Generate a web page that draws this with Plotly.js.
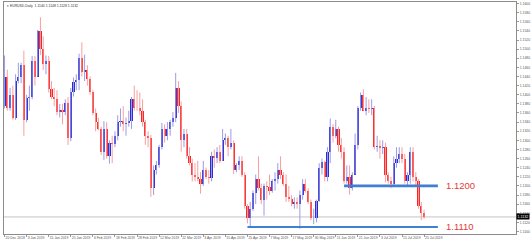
<!DOCTYPE html>
<html><head><meta charset="utf-8">
<script src="https://cdn.plot.ly/plotly-3.0.1.min.js"></script>
<style>html,body{margin:0;padding:0;background:#fff;}#chart{width:532px;height:245px;}</style>
</head><body><div id="chart"></div>
<script>
// EURUSD daily candles
const openP = [1.1375,1.1440,1.1370,1.1400,1.1350,1.1430,1.1440,1.1465,1.1345,1.1392,
1.1395,1.1473,1.1440,1.1540,1.1500,1.1468,1.1473,1.1412,1.1395,1.1390,
1.1363,1.1366,1.1362,1.1382,1.1305,1.1405,1.1427,1.1432,1.1480,1.1450,
1.1455,1.1435,1.1407,1.1360,1.1340,1.1325,1.1275,1.1325,1.1265,1.1295,
1.1293,1.1310,1.1340,1.1343,1.1335,1.1338,1.1342,1.1390,1.1372,1.1370,
1.1365,1.1340,1.1310,1.1305,1.1195,1.1235,1.1245,1.1285,1.1325,1.1310,
1.1325,1.1340,1.1350,1.1415,1.1375,1.1300,1.1315,1.1265,1.1250,1.1225,
1.1220,1.1215,1.1205,1.1235,1.1220,1.1218,1.1265,1.1262,1.1275,1.1255,
1.1300,1.1305,1.1285,1.1295,1.1235,1.1245,1.1255,1.1225,1.1155,1.1130,
1.1150,1.1185,1.1215,1.1195,1.1170,1.1200,1.1198,1.1190,1.1210,1.1215,
1.1235,1.1225,1.1205,1.1175,1.1172,1.1160,1.1165,1.1160,1.1180,1.1205,
1.1190,1.1165,1.1130,1.1130,1.1168,1.1240,1.1253,1.1220,1.1275,1.1330,
1.1310,1.1325,1.1290,1.1275,1.1210,1.1220,1.1195,1.1225,1.1290,1.1370,
1.1400,1.1365,1.1370,1.1368,1.1372,1.1285,1.1287,1.1283,1.1285,1.1225,
1.1210,1.1205,1.1250,1.1260,1.1270,1.1260,1.1210,1.1225,1.1275,1.1220,
1.1210,1.1155,1.1140];
const highP = [1.1486,1.1455,1.1415,1.1420,1.1445,1.1470,1.1470,1.1497,1.1400,1.1420,
1.1485,1.1485,1.1542,1.1570,1.1528,1.1486,1.1485,1.1430,1.1415,1.1410,
1.1380,1.1380,1.1390,1.1395,1.1415,1.1438,1.1445,1.1490,1.1515,1.1488,
1.1465,1.1440,1.1410,1.1370,1.1350,1.1330,1.1342,1.1340,1.1300,1.1310,
1.1320,1.1355,1.1370,1.1375,1.1350,1.1365,1.1395,1.1420,1.1410,1.1405,
1.1390,1.1345,1.1320,1.1312,1.1245,1.1255,1.1290,1.1338,1.1335,1.1340,
1.1345,1.1362,1.1448,1.1430,1.1385,1.1325,1.1325,1.1285,1.1260,1.1250,
1.1255,1.1230,1.1255,1.1240,1.1235,1.1275,1.1280,1.1285,1.1290,1.1325,
1.1315,1.1310,1.1325,1.1300,1.1250,1.1265,1.1265,1.1230,1.1160,1.1165,
1.1190,1.1225,1.1265,1.1205,1.1205,1.1210,1.1225,1.1215,1.1230,1.1250,
1.1265,1.1230,1.1225,1.1200,1.1180,1.1175,1.1175,1.1190,1.1215,1.1215,
1.1195,1.1170,1.1150,1.1170,1.1250,1.1260,1.1255,1.1285,1.1348,1.1335,
1.1345,1.1330,1.1305,1.1285,1.1245,1.1245,1.1230,1.1315,1.1375,1.1405,
1.1412,1.1395,1.1390,1.1390,1.1375,1.1310,1.1300,1.1300,1.1295,1.1230,
1.1220,1.1265,1.1285,1.1285,1.1285,1.1270,1.1230,1.1285,1.1285,1.1230,
1.1215,1.1165,1.1148];
const lowP = [1.1370,1.1365,1.1365,1.1345,1.1345,1.1425,1.1425,1.1310,1.1340,1.1365,
1.1390,1.1420,1.1440,1.1487,1.1454,1.1445,1.1405,1.1390,1.1375,1.1355,
1.1350,1.1335,1.1355,1.1290,1.1298,1.1396,1.1410,1.1410,1.1440,1.1430,
1.1420,1.1400,1.1355,1.1320,1.1322,1.1268,1.1257,1.1260,1.1249,1.1250,
1.1285,1.1300,1.1330,1.1320,1.1310,1.1330,1.1325,1.1365,1.1365,1.1355,
1.1330,1.1290,1.1285,1.1176,1.1180,1.1225,1.1240,1.1280,1.1295,1.1300,
1.1310,1.1330,1.1340,1.1360,1.1275,1.1285,1.1260,1.1245,1.1210,1.1210,
1.1210,1.1183,1.1200,1.1215,1.1205,1.1210,1.1240,1.1250,1.1250,1.1255,
1.1290,1.1265,1.1280,1.1226,1.1230,1.1235,1.1220,1.1150,1.1118,1.1110,
1.1145,1.1160,1.1190,1.1160,1.1135,1.1170,1.1180,1.1185,1.1190,1.1205,
1.1215,1.1200,1.1165,1.1165,1.1155,1.1150,1.1150,1.1106,1.1170,1.1185,
1.1160,1.1125,1.1116,1.1120,1.1165,1.1225,1.1210,1.1210,1.1250,1.1295,
1.1305,1.1275,1.1260,1.1205,1.1205,1.1181,1.1190,1.1225,1.1280,1.1365,
1.1365,1.1355,1.1360,1.1355,1.1280,1.1275,1.1260,1.1270,1.1208,1.1205,
1.1195,1.1200,1.1240,1.1250,1.1250,1.1205,1.1200,1.1205,1.1210,1.1200,
1.1150,1.1125,1.1128];
const closeP = [1.1440,1.1370,1.1400,1.1350,1.1430,1.1440,1.1465,1.1345,1.1392,1.1395,
1.1473,1.1440,1.1540,1.1500,1.1468,1.1473,1.1412,1.1395,1.1390,1.1363,
1.1366,1.1362,1.1382,1.1305,1.1405,1.1427,1.1432,1.1480,1.1450,1.1455,
1.1435,1.1407,1.1360,1.1340,1.1325,1.1275,1.1325,1.1265,1.1295,1.1293,
1.1310,1.1340,1.1343,1.1335,1.1338,1.1342,1.1390,1.1372,1.1370,1.1365,
1.1340,1.1310,1.1305,1.1195,1.1235,1.1245,1.1285,1.1325,1.1310,1.1325,
1.1340,1.1350,1.1415,1.1375,1.1300,1.1315,1.1265,1.1250,1.1225,1.1220,
1.1215,1.1205,1.1235,1.1220,1.1218,1.1265,1.1262,1.1275,1.1255,1.1300,
1.1305,1.1285,1.1295,1.1235,1.1245,1.1255,1.1225,1.1155,1.1130,1.1150,
1.1185,1.1215,1.1195,1.1170,1.1200,1.1198,1.1190,1.1210,1.1215,1.1235,
1.1225,1.1205,1.1175,1.1172,1.1160,1.1165,1.1160,1.1180,1.1205,1.1190,
1.1165,1.1130,1.1130,1.1168,1.1240,1.1253,1.1220,1.1275,1.1330,1.1310,
1.1325,1.1290,1.1275,1.1210,1.1220,1.1195,1.1225,1.1290,1.1370,1.1400,
1.1365,1.1370,1.1368,1.1372,1.1285,1.1287,1.1283,1.1285,1.1225,1.1210,
1.1205,1.1250,1.1260,1.1270,1.1260,1.1210,1.1225,1.1275,1.1220,1.1210,
1.1155,1.1140,1.1132];

const dateLabels = ["20 Dec 2018","3 Jan 2019","15 Jan 2019","25 Jan 2019","6 Feb 2019","18 Feb 2019",
"28 Feb 2019","12 Mar 2019","22 Mar 2019","3 Apr 2019","15 Apr 2019","25 Apr 2019","7 May 2019",
"17 May 2019","30 May 2019","11 Jun 2019","21 Jun 2019","3 Jul 2019","15 Jul 2019","25 Jul 2019"];
const dateLabelBars = [0,8,16,24,32,40,48,56,64,72,80,88,96,104,112,120,128,136,144,152];

const priceTicks = [1.1100,1.1120,1.1140,1.1160,1.1180,1.1200,1.1220,1.1240,1.1260,1.1280,
1.1300,1.1320,1.1340,1.1360,1.1380,1.1400,1.1420,1.1440,1.1460,1.1480,1.1500,1.1520,1.1540,
1.1560,1.1580,1.1600];

const levels = [1.1200, 1.1110];
const levelStartBar = [123, 88];
const levelEndBar = [157, 157];

const BULL = "#2b2bd6", BEAR = "#ff2222";
const n = closeP.length;
const xs = closeP.map((_, i) => i);

const wickUp = {x: [], y: []}, wickDn = {x: [], y: []};
xs.forEach(i => {
  const w = closeP[i] >= openP[i] ? wickUp : wickDn;
  w.x.push(i, i, null); w.y.push(lowP[i], highP[i], null);
});

const traces = [
  {type: "scatter", mode: "lines", x: wickUp.x, y: wickUp.y, line: {color: "#9c9ce6", width: 1}, hoverinfo: "skip", connectgaps: false},
  {type: "scatter", mode: "lines", x: wickDn.x, y: wickDn.y, line: {color: "#f5a0a0", width: 1}, hoverinfo: "skip", connectgaps: false},
  {type: "bar", x: xs,
   base: xs.map(i => Math.min(openP[i], closeP[i])),
   y: xs.map(i => Math.max(Math.abs(closeP[i] - openP[i]), 0.00004)),
   width: 0.78,
   marker: {color: xs.map(i => closeP[i] >= openP[i] ? BULL : BEAR), line: {width: 0}},
   hoverinfo: "skip"}
];

const last = n - 1;
const shapes = [
  {type: "line", xref: "paper", yref: "y", x0: 0, x1: 1, y0: closeP[last], y1: closeP[last],
   line: {color: "#c4c4c4", width: 1}, layer: "below"}
];
const annotations = [
  {xref: "paper", yref: "paper", x: 0.002, y: 0.998, xanchor: "left", yanchor: "top", showarrow: false,
   text: "▾ EURUSD,Daily  " + openP[last].toFixed(4) + " " + highP[last].toFixed(4) + " " + lowP[last].toFixed(4) + " " + closeP[last].toFixed(4),
   font: {size: 3.4, color: "#333"}},
  {xref: "paper", yref: "y", x: 1, y: closeP[last], xanchor: "left", yanchor: "middle", showarrow: false,
   text: closeP[last].toFixed(4), font: {size: 3.6, color: "#fff"}, bgcolor: "#000", borderpad: 0.6}
];
levels.forEach((lv, k) => {
  shapes.push({type: "line", xref: "x", yref: "y", x0: levelStartBar[k], x1: levelEndBar[k], y0: lv, y1: lv,
    line: {color: "#3f7fd4", width: k === 0 ? 2.8 : 2}});
  annotations.push({xref: "x", yref: "y", x: levelEndBar[k] + 2.2, y: lv, xanchor: "left", yanchor: "middle",
    showarrow: false, text: lv.toFixed(4), font: {size: 9.5, color: "#e23b3b"}});
});

const layout = {
  width: 532, height: 245,
  margin: {l: 4, r: 16, t: 2, b: 11},
  paper_bgcolor: "#fff", plot_bgcolor: "#fff",
  showlegend: false, hovermode: false, bargap: 0,
  font: {family: "Liberation Sans, Arial, sans-serif"},
  xaxis: {range: [-0.2, 185.3], showgrid: false, zeroline: false, showline: true, mirror: true,
    linecolor: "#8c8c8c", linewidth: 1, tickvals: dateLabelBars, ticktext: dateLabels,
    ticks: "outside", ticklen: 2, tickcolor: "#999", tickfont: {size: 3.4, color: "#555"},
    tickangle: 0, ticklabelposition: "outside right", automargin: false, fixedrange: true},
  yaxis: {side: "right", range: [1.10946, 1.16034], showgrid: false, zeroline: false, showline: true, mirror: true,
    linecolor: "#8c8c8c", linewidth: 1, tickvals: priceTicks, ticktext: priceTicks.map(v => v.toFixed(4)),
    ticks: "outside", ticklen: 2, tickcolor: "#999", tickfont: {size: 3.4, color: "#555"},
    automargin: false, fixedrange: true},
  shapes: shapes,
  annotations: annotations
};

Plotly.newPlot("chart", traces, layout, {staticPlot: true, displayModeBar: false});
</script></body></html>
